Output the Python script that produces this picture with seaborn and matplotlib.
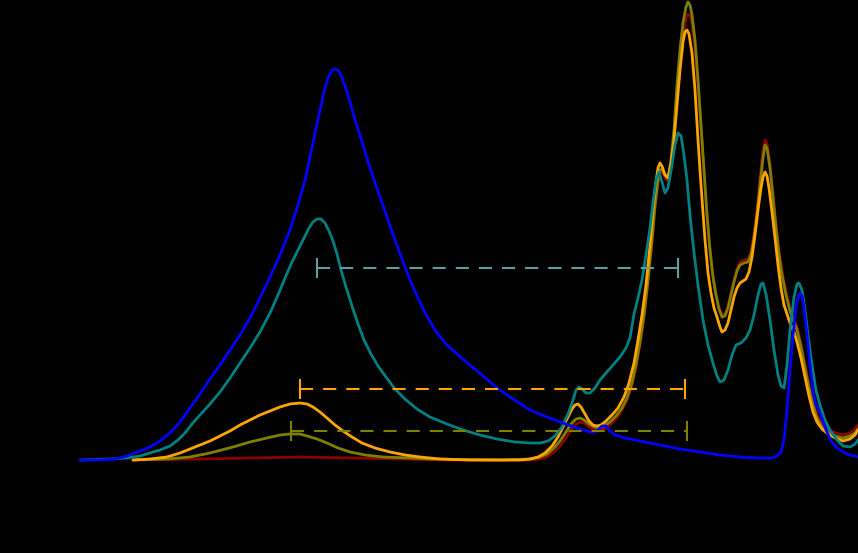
import numpy as np
import pandas as pd
import seaborn as sns
import matplotlib.pyplot as plt

# spectra (x: channel, y: intensity, a.u.)
blue_x = [80, 100, 115, 127, 140, 150, 160, 170, 180, 190, 200, 210, 220, 230, 240, 250, 260, 270, 280, 290,
          298, 305, 310, 315, 320, 324, 328, 332, 335, 338, 341, 345, 350, 355, 360, 366, 373, 380, 387, 395,
          403, 410, 418, 425, 435, 446, 458, 470, 482, 497, 510, 530, 547, 563, 577, 590, 595, 599, 602, 606,
          610, 615, 625, 640, 660, 680, 700, 720, 740, 760, 772, 777, 781, 784, 787, 790, 793, 796, 798, 800,
          802, 804, 807, 810, 813, 816, 819, 822, 826, 831, 837, 843, 850, 858]
blue_y = [0, 0, 1, 4, 9, 13, 19, 27, 38, 52, 66, 81, 95, 110, 125, 142, 162, 183, 205, 230,
          255, 280, 303, 327, 350, 368, 382, 390, 391, 390, 385, 374, 358, 340, 325, 305, 283, 263, 243, 220,
          198, 180, 162, 147, 130, 116, 105, 95, 85, 72, 63, 50, 43, 37, 32, 28, 28, 31, 34, 34,
          29, 25, 22, 19, 15, 11, 8, 5, 3, 2, 2, 4, 8, 20, 50, 90, 125, 152, 163, 167,
          164, 152, 125, 95, 68, 55, 50, 42, 30, 19, 12, 8, 5, 3]

teal_x = [80, 110, 127, 140, 150, 160, 170, 178, 185, 192, 200, 210, 220, 230, 240, 250, 260, 270, 278, 285,
          292, 298, 304, 309, 313, 317, 321, 325, 329, 333, 337, 341, 346, 352, 358, 364, 371, 378, 386, 395,
          405, 417, 430, 447, 463, 480, 497, 515, 530, 540, 548, 555, 562, 568, 573, 576, 579, 582, 586, 590,
          595, 600, 606, 613, 620, 626, 630, 634, 638, 642, 646, 650, 653, 656, 659, 662, 665, 668, 672, 675,
          678, 681, 684, 687, 690, 694, 698, 703, 708, 713, 717, 720, 724, 728, 732, 736, 741, 746, 750, 754,
          758, 761, 763, 766, 770, 774, 778, 781, 784, 787, 790, 794, 797, 799, 802, 805, 808, 812, 816, 820,
          825, 830, 837, 843, 850, 855, 858]
teal_y = [0, 1, 2, 4, 7, 10, 14, 20, 27, 36, 45, 56, 68, 82, 97, 112, 128, 147, 165, 182,
          198, 210, 222, 232, 238, 241, 241, 237, 229, 219, 206, 190, 173, 154, 136, 120, 106, 94, 83, 71,
          61, 51, 43, 36, 30, 25, 21, 18, 17, 17, 19, 24, 33, 46, 60, 70, 73, 71, 67, 67,
          72, 80, 87, 95, 103, 112, 122, 146, 162, 180, 205, 232, 258, 280, 288, 278, 267, 272, 295, 315,
          327, 324, 305, 280, 245, 207, 175, 140, 115, 97, 84, 78, 80, 90, 105, 115, 117, 122, 130, 145,
          165, 176, 177, 166, 140, 110, 85, 74, 72, 95, 130, 163, 176, 177, 170, 150, 125, 95, 70, 55,
          40, 30, 20, 14, 13, 16, 20]

orange_x = [133, 150, 167, 180, 190, 200, 210, 220, 230, 240, 250, 260, 270, 280, 290, 300, 307, 313, 320, 327,
            335, 343, 352, 362, 375, 390, 405, 420, 440, 470, 500, 520, 530, 538, 545, 552, 558, 563, 568, 572,
            575, 578, 581, 585, 589, 593, 597, 601, 606, 612, 618, 624, 629, 634, 638, 642, 646, 650, 653, 656,
            658, 660, 662, 665, 668, 671, 674, 677, 680, 683, 685, 687, 689, 692, 695, 698, 701, 705, 708, 711,
            714, 717, 720, 722, 725, 728, 731, 734, 737, 740, 743, 746, 749, 752, 755, 758, 761, 763, 765, 767,
            769, 772, 775, 778, 781, 784, 787, 790, 794, 797, 801, 805, 809, 813, 817, 822, 828, 835, 843, 850,
            855, 858]
orange_y = [0, 1, 3, 7, 11, 15, 19, 24, 29, 35, 40, 45, 49, 53, 56, 57, 56, 53, 48, 42,
            35, 29, 23, 17, 12, 8, 5, 3, 1, 0, 0, 0, 1, 3, 7, 14, 23, 33, 43, 51,
            55, 56, 53, 46, 39, 35, 34, 35, 39, 45, 52, 63, 77, 97, 120, 145, 175, 215, 250, 278,
            292, 297, 294, 285, 282, 296, 320, 355, 390, 418, 428, 430, 426, 407, 370, 320, 275, 220, 187, 167,
            152, 143, 133, 128, 130, 137, 150, 163, 172, 177, 179, 181, 188, 203, 225, 250, 272, 283, 288, 284,
            272, 248, 222, 195, 172, 155, 146, 137, 128, 118, 102, 83, 64, 48, 38, 31, 26, 22, 19, 21,
            25, 30]

olive_x = [133, 167, 190, 210, 233, 250, 267, 280, 290, 300, 307, 317, 327, 338, 350, 365, 383, 410, 430, 500,
           530, 540, 547, 554, 560, 566, 571, 576, 580, 584, 589, 594, 599, 604, 610, 616, 622, 627, 632, 636,
           640, 644, 648, 652, 655, 658, 660, 662, 665, 668, 671, 674, 677, 680, 683, 686, 688, 690, 692, 695,
           698, 701, 704, 707, 710, 713, 716, 719, 722, 725, 728, 731, 734, 737, 740, 744, 748, 751, 754, 757,
           760, 763, 765, 767, 770, 773, 776, 779, 782, 786, 790, 794, 797, 801, 805, 809, 813, 817, 822, 828,
           835, 843, 850, 855, 858]
olive_y = [0, 1, 3, 7, 13, 18, 22, 25, 26, 26, 24, 21, 17, 12, 8, 5, 3, 2, 1, 0,
           1, 3, 6, 12, 19, 28, 36, 41, 42, 40, 36, 33, 32, 34, 38, 44, 52, 62, 77, 95,
           118, 145, 180, 220, 255, 280, 290, 291, 285, 282, 300, 330, 375, 410, 437, 453, 458, 455, 445, 420,
           380, 335, 290, 245, 210, 183, 165, 151, 143, 144, 152, 165, 178, 189, 195, 197, 198, 205, 222, 245,
           275, 302, 315, 312, 292, 262, 232, 205, 185, 165, 149, 138, 130, 113, 92, 72, 55, 42, 33, 28,
           24, 22, 24, 27, 31]

red_x = [133, 200, 250, 300, 350, 400, 450, 530, 540, 547, 554, 560, 566, 571, 576, 580, 584, 589, 594, 599,
         604, 610, 616, 622, 627, 632, 636, 640, 644, 648, 652, 655, 658, 660, 662, 665, 668, 671, 674, 677,
         680, 683, 686, 688, 690, 692, 695, 698, 701, 704, 707, 710, 713, 716, 719, 722, 725, 728, 731, 734,
         737, 740, 744, 748, 751, 754, 757, 760, 763, 765, 767, 770, 773, 776, 779, 782, 786, 790, 794, 797,
         801, 805, 809, 813, 817, 822, 828, 835, 843, 850, 855, 858]
red_y = [0, 1, 2, 3, 2, 1, 0, 0, 1, 3, 8, 14, 22, 30, 36, 38, 37, 33, 30, 29,
         31, 35, 41, 50, 60, 75, 93, 115, 142, 177, 217, 252, 277, 287, 288, 282, 279, 296, 325, 368,
         400, 426, 442, 446, 444, 436, 413, 375, 332, 288, 245, 210, 183, 165, 152, 145, 146, 154, 167, 180,
         191, 198, 200, 201, 208, 226, 250, 282, 310, 320, 316, 296, 266, 236, 209, 189, 168, 152, 141, 133,
         116, 95, 75, 58, 45, 36, 31, 27, 25, 27, 31, 35]

series = ["S1", "S2", "S3", "S4", "S5"]
colors = ["darkred", "olive", "orange", "teal", "blue"]

# dashed range markers: level, left end, right end
bar_y = [192, 71, 29]
bar_lo = [317, 300, 291]
bar_hi = [678, 685, 687]
bar_colors = ["cadetblue", "orange", "olive"]

frames = []
for name, xs, ys in zip(series, [red_x, olive_x, orange_x, teal_x, blue_x],
                        [red_y, olive_y, orange_y, teal_y, blue_y]):
    frames.append(pd.DataFrame({"x": xs, "y": ys, "series": name}))
df = pd.concat(frames, ignore_index=True)

sns.set_theme(style="white")
fig = plt.figure(figsize=(8.58, 5.53), dpi=100, facecolor="black")
ax = fig.add_axes([0, 0, 1, 1])
ax.set_facecolor("black")

sns.lineplot(data=df, x="x", y="y", hue="series", hue_order=series,
             palette=dict(zip(series, colors)), estimator=None, linewidth=2.0,
             legend=False, ax=ax)

for y, lo, hi, c in zip(bar_y, bar_lo, bar_hi, bar_colors):
    eb = ax.errorbar((lo + hi) / 2, y, xerr=(hi - lo) / 2, fmt="none", ecolor=c,
                     elinewidth=1.5, capsize=7, capthick=1.5)
    eb[2][0].set_linestyle((0, (6.3, 4.8)))

ax.set_xlim(0, 858)
ax.set_ylim(-93, 460)
ax.axis("off")

fig.savefig("out.png", dpi=100, facecolor="black")
